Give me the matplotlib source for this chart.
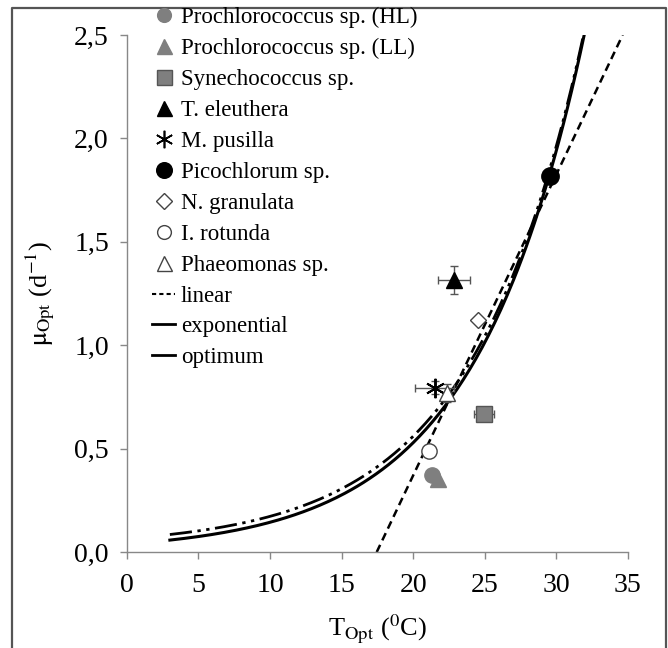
import numpy as np
import matplotlib
matplotlib.use('Agg')
import matplotlib.pyplot as plt
from matplotlib.lines import Line2D

plt.rcParams['font.family'] = ['Liberation Serif', 'DejaVu Serif']
plt.rcParams['mathtext.fontset'] = 'stix'

# species optima (T_opt in degC, mu_opt in d-1)
names = ['Prochlorococcus sp. (HL)', 'Prochlorococcus sp. (LL)', 'Synechococcus sp.',
         'T. eleuthera', 'M. pusilla', 'Picochlorum sp.', 'N. granulata',
         'I. rotunda', 'Phaeomonas sp.']
t_opt = [21.3, 21.75, 24.95, 22.85, 21.5, 29.55, 24.5, 21.1, 22.35]
mu_opt = [0.375, 0.355, 0.67, 1.315, 0.795, 1.82, 1.12, 0.49, 0.77]
t_err = [0, 0, 0.7, 1.1, 1.35, 0, 0, 0, 0]
mu_err = [0, 0, 0, 0.067, 0.03, 0, 0, 0, 0.045]
markers = ['o', '^', 's', '^', (6, 2, 0), 'o', 'D', 'o', '^']
faces = ['#7f7f7f', '#7f7f7f', '#7f7f7f', 'black', 'black', 'black', 'white', 'white', 'white']
edges = ['#7f7f7f', '#7f7f7f', '#555555', 'black', 'black', 'black', '#444444', '#444444', '#444444']
sizes = [11, 12, 12, 12, 14, 12.5, 8.5, 11, 12]

# fitted curves
lin_slope, lin_x0 = 0.1455, 17.45
exp_a, exp_b = 0.0393, 0.130
opt_c, opt_a, opt_b = 0.025, 0.0408, 0.1287

fig = plt.figure(figsize=(6.68, 6.48), dpi=100)
ax = fig.add_axes([0.190, 0.148, 0.750, 0.798])

x_lin = np.array([lin_x0, lin_x0 + 2.5 / lin_slope])
ax.plot(x_lin, lin_slope * (x_lin - lin_x0), color='black', lw=1.8,
        dashes=(3.2, 2.0), zorder=2)

x_exp = np.linspace(3, np.log(2.5 / exp_a) / exp_b, 200)
ax.plot(x_exp, exp_a * np.exp(exp_b * x_exp), color='black', lw=2.2, zorder=2)

x_opt = np.linspace(3, np.log((2.5 - opt_c) / opt_a) / opt_b, 200)
ax.plot(x_opt, opt_c + opt_a * np.exp(opt_b * x_opt), color='black', lw=2.0,
        dashes=(8, 2, 1.2, 2, 1.2, 2), zorder=2)

for i in range(len(names)):
    if t_err[i] or mu_err[i]:
        ax.errorbar(t_opt[i], mu_opt[i], xerr=t_err[i] or None, yerr=mu_err[i] or None,
                    fmt='none', ecolor='#555555', elinewidth=1, capsize=3, zorder=3)
    mk = markers[i]
    ax.plot(t_opt[i], mu_opt[i], marker=mk, ms=sizes[i], mfc=faces[i], mec=edges[i],
            mew=1.4 if i == 4 else 1.0, ls='none', zorder=4)

ax.set_xlim(0, 35)
ax.set_ylim(0, 2.5)
ax.set_xticks(np.arange(0, 36, 5))
ax.set_yticks(np.arange(0, 2.51, 0.5))
ax.set_yticklabels([f'{v:.1f}'.replace('.', ',') for v in np.arange(0, 2.51, 0.5)])
ax.tick_params(labelsize=20, color='#888888', length=5, width=1)
ax.tick_params(axis='x', pad=10)
ax.tick_params(axis='y', pad=8)
for s in ['top', 'right']:
    ax.spines[s].set_visible(False)
for s in ['left', 'bottom']:
    ax.spines[s].set_color('#888888')
    ax.spines[s].set_linewidth(1)

ax.set_xlabel(r'T$_{\mathrm{Opt}}$ ($^{0}$C)', fontsize=19, labelpad=11)
ax.set_ylabel(r'$\mathrm{\mu}_{\mathrm{Opt}}$ (d$^{-1}$)', fontsize=19, labelpad=12)

handles = []
for i in range(len(names)):
    handles.append(Line2D([], [], marker=markers[i], ms=sizes[i] * 0.9, mfc=faces[i],
                          mec=edges[i], mew=1.2 if i == 4 else 1.0,
                          ls='none', label=names[i]))
handles.append(Line2D([], [], color='black', lw=1.5, dashes=(2, 1.5), label='linear'))
handles.append(Line2D([], [], color='black', lw=2, label='exponential'))
handles.append(Line2D([], [], color='black', lw=2, label='optimum'))
fig.legend(handles=handles, loc='upper left', bbox_to_anchor=(0.228, 0.989),
           frameon=False, fontsize=16.5, handlelength=1.0, handletextpad=0.25,
           labelspacing=0.43, borderpad=0, borderaxespad=0)

# outer frame
fig.add_artist(Line2D([12 / 668, 12 / 668, 666 / 668, 666 / 668], [0, 1 - 8 / 648, 1 - 8 / 648, 0],
                      transform=fig.transFigure, color='#555555', lw=1.6))

fig.savefig('out.png', dpi=100)
